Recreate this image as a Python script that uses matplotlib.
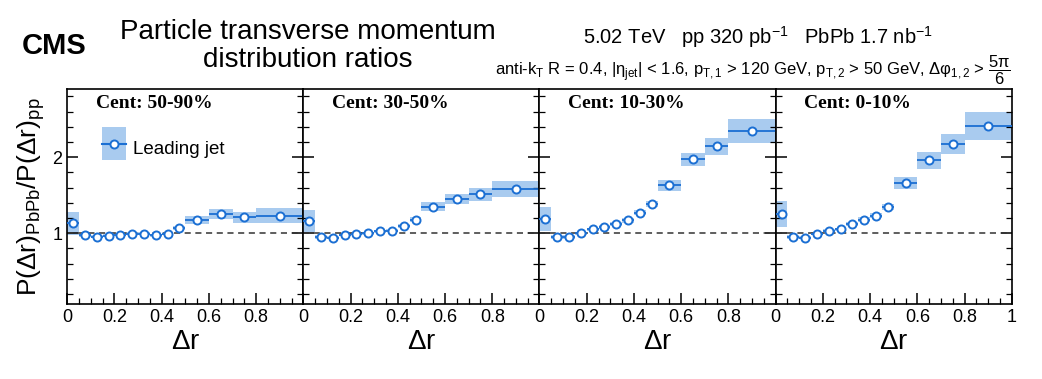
import matplotlib.pyplot as plt
import numpy as np
from matplotlib.patches import Patch, Rectangle
from matplotlib.lines import Line2D
from matplotlib.legend_handler import HandlerPatch
from matplotlib.ticker import MultipleLocator

plt.rcParams['font.family'] = ['Liberation Sans', 'DejaVu Sans']
plt.rcParams['mathtext.fontset'] = 'custom'
plt.rcParams['mathtext.rm'] = 'Liberation Sans'
plt.rcParams['mathtext.it'] = 'Liberation Sans'

# bin edges in delta r
bin_lo = [0.0, 0.05, 0.1, 0.15, 0.2, 0.25, 0.3, 0.35, 0.4, 0.45, 0.5, 0.6, 0.7, 0.8]
bin_hi = [0.05, 0.1, 0.15, 0.2, 0.25, 0.3, 0.35, 0.4, 0.45, 0.5, 0.6, 0.7, 0.8, 1.0]

cent_labels = ['Cent: 50-90%', 'Cent: 30-50%', 'Cent: 10-30%', 'Cent: 0-10%']

# ratio values per centrality
ratio_5090 = [1.13, 0.97, 0.956, 0.965, 0.98, 0.995, 0.995, 0.975, 0.99, 1.07, 1.17, 1.25, 1.21, 1.23]
ratio_3050 = [1.16, 0.95, 0.94, 0.98, 0.995, 1.0, 1.025, 1.035, 1.09, 1.18, 1.35, 1.45, 1.51, 1.58]
ratio_1030 = [1.19, 0.95, 0.95, 1.0, 1.05, 1.08, 1.12, 1.17, 1.27, 1.39, 1.63, 1.97, 2.14, 2.34]
ratio_010 = [1.25, 0.95, 0.94, 0.995, 1.035, 1.05, 1.12, 1.18, 1.23, 1.35, 1.66, 1.96, 2.17, 2.41]

# systematic uncertainties (half height of boxes)
sys_5090 = [0.15, 0.02, 0.02, 0.02, 0.02, 0.02, 0.02, 0.02, 0.02, 0.025, 0.055, 0.065, 0.07, 0.095]
sys_3050 = [0.15, 0.02, 0.02, 0.02, 0.02, 0.02, 0.02, 0.02, 0.025, 0.03, 0.06, 0.07, 0.08, 0.11]
sys_1030 = [0.16, 0.02, 0.02, 0.02, 0.025, 0.025, 0.03, 0.03, 0.035, 0.04, 0.075, 0.09, 0.115, 0.16]
sys_010 = [0.17, 0.02, 0.02, 0.02, 0.025, 0.025, 0.03, 0.03, 0.035, 0.04, 0.08, 0.11, 0.13, 0.18]

# statistical errors
stat_5090 = [0.01, 0.005, 0.005, 0.005, 0.005, 0.005, 0.005, 0.005, 0.005, 0.005, 0.01, 0.01, 0.01, 0.01]
stat_3050 = [0.01, 0.005, 0.005, 0.005, 0.005, 0.005, 0.005, 0.005, 0.005, 0.005, 0.01, 0.01, 0.015, 0.015]
stat_1030 = [0.01, 0.005, 0.005, 0.005, 0.005, 0.005, 0.005, 0.005, 0.005, 0.01, 0.01, 0.015, 0.02, 0.025]
stat_010 = [0.015, 0.005, 0.005, 0.005, 0.005, 0.005, 0.005, 0.005, 0.01, 0.01, 0.015, 0.02, 0.03, 0.04]

ratios = [ratio_5090, ratio_3050, ratio_1030, ratio_010]
syss = [sys_5090, sys_3050, sys_1030, sys_010]
stats = [stat_5090, stat_3050, stat_1030, stat_010]

line_col = '#1b6fd3'
box_col = '#a9cbef'

lo = np.array(bin_lo)
hi = np.array(bin_hi)
xc = (lo + hi) / 2
xw = hi - lo


# legend box centred on the line
def box_func(legend, orig_handle, xdescent, ydescent, width, height, fontsize):
    bh = 1.75 * fontsize
    yc = (height - ydescent) / 2
    return Rectangle((-xdescent, yc - bh / 2), width, bh)


fig = plt.figure(figsize=(10.42, 3.79), dpi=100)
left, right, bottom, top = 0.0645, 0.971, 0.198, 0.766
pw = (right - left) / 4

for i in range(4):
    ax = fig.add_axes([left + i * pw, bottom, pw, top - bottom])
    y = np.array(ratios[i])
    s = np.array(syss[i])
    ax.bar(xc, 2 * s, bottom=y - s, width=xw, color=box_col, linewidth=0, zorder=1)
    ax.axhline(1, color='#333333', ls=(0, (4, 3)), lw=1.1, zorder=2)
    ax.errorbar(xc, y, xerr=xw / 2, yerr=stats[i], fmt='o', ms=5.8, mfc='white',
                mec=line_col, mew=1.4, color=line_col, elinewidth=1.3, capsize=0, zorder=3)
    ax.set_xlim(0, 1)
    ax.set_ylim(0.07, 2.9)
    ax.yaxis.set_major_locator(MultipleLocator(1))
    ax.yaxis.set_minor_locator(MultipleLocator(0.2))
    ax.xaxis.set_minor_locator(MultipleLocator(0.05))
    if i < 3:
        ax.set_xticks([0, 0.2, 0.4, 0.6, 0.8])
        ax.set_xticklabels(['0', '0.2', '0.4', '0.6', '0.8'])
    else:
        ax.set_xticks([0, 0.2, 0.4, 0.6, 0.8, 1.0])
        ax.set_xticklabels(['0', '0.2', '0.4', '0.6', '0.8', '1'])
    ax.tick_params(which='both', direction='in', left=True, right=True, top=False,
                   labelsize=13)
    ax.tick_params(which='major', length=8, width=1.1)
    ax.tick_params(which='minor', length=4, width=0.9)
    if i > 0:
        ax.tick_params(labelleft=False)
    else:
        ax.set_yticklabels(['', '1', '2'][:len(ax.get_yticks())])
        ax.set_ylabel(r'P($\Delta$r)$_{\mathrm{PbPb}}$/P($\Delta$r)$_{\mathrm{pp}}$', fontsize=19, labelpad=4)
    for sp in ax.spines.values():
        sp.set_linewidth(1.2)
    ax.set_xlabel(r'$\Delta$r', fontsize=20, labelpad=2)
    ax.text(0.12, 0.97, cent_labels[i], transform=ax.transAxes, ha='left', va='top',
            family='Liberation Serif', fontweight='bold', fontsize=14)
    if i == 0:
        h = (Patch(facecolor=box_col, edgecolor='none'),
             Line2D([], [], color=line_col, marker='o', ms=5.8, mfc='white', mec=line_col, mew=1.4))
        ax.legend([h], ['Leading jet'], loc='upper left', bbox_to_anchor=(0.075, 0.87),
                  frameon=False, fontsize=13.5, handlelength=1.3, handleheight=2.0,
                  handletextpad=0.35,
                  handler_map={Patch: HandlerPatch(patch_func=box_func)})

fig.text(0.021, 0.879, 'CMS', fontsize=21, fontweight='bold', ha='left', va='center')
fig.text(0.295, 0.879, 'Particle transverse momentum\ndistribution ratios', fontsize=20,
         ha='center', va='center', linespacing=1.12)
fig.text(0.727, 0.902, r'5.02 TeV   pp 320 pb$^{-1}$   PbPb 1.7 nb$^{-1}$', fontsize=14.5,
         ha='center', va='center')
fig.text(0.97, 0.815,
         r'anti-k$_{\mathrm{T}}$ R = 0.4, |$\eta_{\mathrm{jet}}$| < 1.6, p$_{\mathrm{T,1}}$ > 120 GeV, '
         r'p$_{\mathrm{T,2}}$ > 50 GeV, $\Delta\varphi_{\mathrm{1,2}}$ > $\dfrac{5\pi}{6}$',
         fontsize=12, ha='right', va='center')

fig.savefig('out.png', dpi=100)
